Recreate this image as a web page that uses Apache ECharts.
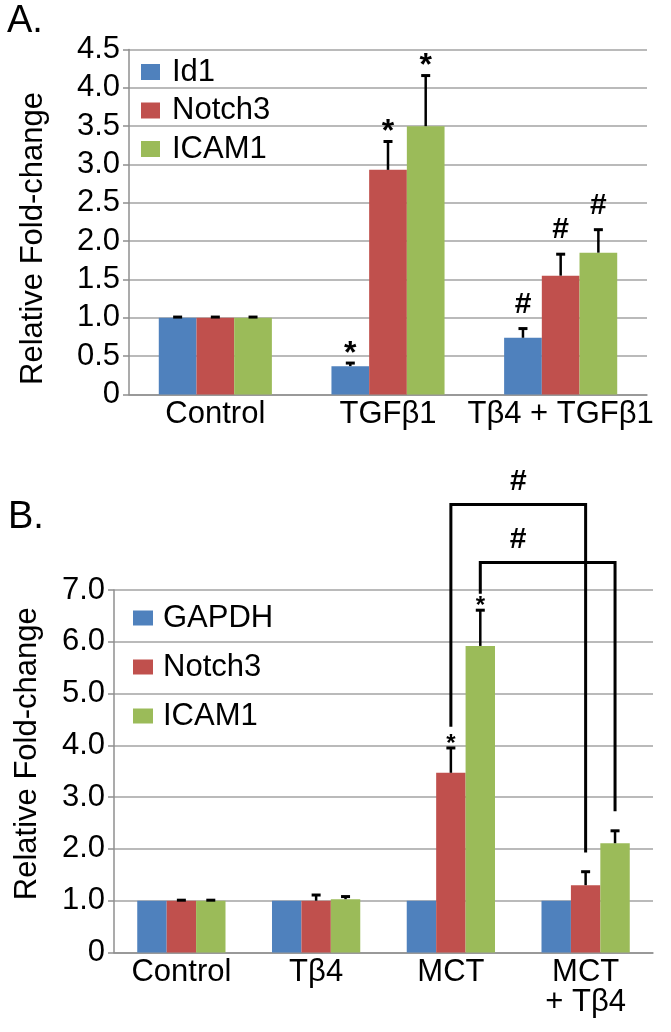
<!DOCTYPE html>
<html><head><meta charset="utf-8">
<script src="https://cdn.jsdelivr.net/npm/echarts@6/dist/echarts.min.js"></script>
<style>html,body{margin:0;padding:0;background:#fff}#c{width:671px;height:1032px}</style>
</head><body><div id="c"></div>
<script>
// ---------- Panel A data ----------
const categoriesA = ['Control', 'TGFβ1', 'Tβ4 + TGFβ1'];
const id1A = [1.00, 0.37, 0.74];
const id1ErrA = [1.01, 0.41, 0.86];
const notch3A = [1.00, 2.93, 1.55];
const notch3ErrA = [1.01, 3.30, 1.83];
const icam1A = [1.00, 3.50, 1.85];
const icam1ErrA = [1.01, 4.16, 2.15];
const id1SigA = ['', '*', '#'];
const notch3SigA = ['', '*', '#'];
const icam1SigA = ['', '*', '#'];
const yMinA = 0, yMaxA = 4.5, yStepA = 0.5;

// ---------- Panel B data ----------
const categoriesB = ['Control', 'Tβ4', 'MCT', 'MCT\n+ Tβ4'];
const gapdhB = [1.00, 1.00, 1.00, 1.00];
const gapdhErrB = [null, null, null, null];
const notch3B = [1.00, 1.00, 3.47, 1.30];
const notch3ErrB = [1.01, 1.11, 3.95, 1.56];
const icam1B = [1.00, 1.03, 5.92, 2.11];
const icam1ErrB = [1.01, 1.08, 6.61, 2.35];
const gapdhSigB = ['', '', '', ''];
const notch3SigB = ['', '', '*', ''];
const icam1SigB = ['', '', '*', ''];
const yMinB = 0, yMaxB = 7, yStepB = 1;
// significance brackets: [fromCategory, fromSeries, toCategory, toSeries, startValue, topValue, endValue, mark]
const bracketsB = [
  [2, 1, 3, 1, 4.36, 8.65, 1.93, '#'],
  [2, 2, 3, 2, 6.93, 7.53, 2.73, '#']
];

// ---------- styles ----------
const F = '"Liberation Sans", Arial, sans-serif';
const BLUE = '#4f81bd', RED = '#c0504d', GREEN = '#9bbb59';
const GRIDC = '#a3a3a3';
const GAP = 0.345;
const bracketLabelFrac = [0.5, 0.28];

function barX(api, cat, k) {
  const c = api.coord([cat, 0]);
  const band = api.size([1, 0])[0];
  const w = band * (1 - GAP) / 3;
  return c[0] + (k - 1) * w;
}

function errSeries(xi, k, base, err, sig, cfg) {
  return {
    type: 'custom', xAxisIndex: xi, yAxisIndex: xi, z: 5, clip: false, silent: true,
    data: base.map((b, i) => [i, b, err[i] == null ? b : err[i]]),
    encode: { x: 0, y: [1, 2] },
    renderItem: (params, api) => {
      const i = params.dataIndex;
      const children = [];
      const x = barX(api, api.value(0), k);
      const yb = api.coord([api.value(0), api.value(1)])[1];
      const ye = api.coord([api.value(0), api.value(2)])[1];
      if (err[i] != null) {
        children.push({ type: 'line', shape: { x1: x, y1: yb, x2: x, y2: ye }, style: { stroke: '#000', lineWidth: 2.5 } });
        children.push({ type: 'line', shape: { x1: x - 4.5, y1: ye, x2: x + 4.5, y2: ye }, style: { stroke: '#000', lineWidth: 3 } });
      }
      const s = sig[i];
      if (s) {
        const star = s === '*';
        children.push({ type: 'text', style: {
          text: s, x: x, y: ye - (star ? cfg.starOff : cfg.hashOff),
          align: 'center', verticalAlign: 'middle',
          font: 'bold ' + (star ? cfg.starSize : cfg.hashSize) + 'px ' + F, fill: '#000' } });
      }
      return { type: 'group', children: children };
    }
  };
}

const bracketSeries = {
  type: 'custom', xAxisIndex: 1, yAxisIndex: 1, z: 6, clip: false, silent: true,
  data: bracketsB.map(b => [b[0], b[4], b[5], b[6], b[2]]),
  encode: { x: 0, y: [1, 2] },
  renderItem: (params, api) => {
    const b = bracketsB[params.dataIndex];
    const x1 = barX(api, b[0], b[1]);
    const x2 = barX(api, b[2], b[3]);
    const yS = api.coord([b[0], b[4]])[1];
    const yT = api.coord([b[0], b[5]])[1];
    const yE = api.coord([b[2], b[6]])[1];
    const lx = x1 + (x2 - x1) * bracketLabelFrac[params.dataIndex];
    return { type: 'group', children: [
      { type: 'polyline', shape: { points: [[x1, yS], [x1, yT], [x2, yT], [x2, yE]] },
        style: { stroke: '#000', lineWidth: 3, fill: null } },
      { type: 'text', style: { text: b[7], x: lx, y: yT - 23, align: 'center', verticalAlign: 'middle',
        font: 'bold 30px ' + F, fill: '#000' } }
    ] };
  }
};

const fmt = v => v === 0 ? '0' : v.toFixed(1);
function xAxisCfg(gi, data) {
  return {
    type: 'category', gridIndex: gi, data: data,
    axisLine: { lineStyle: { color: '#8f8f8f', width: 1.5 } },
    axisTick: { length: 6, lineStyle: { color: '#8f8f8f', width: 1.5 } },
    axisLabel: { interval: 0, fontSize: 31, fontFamily: F, color: '#000', margin: 5, lineHeight: 30 }
  };
}
function yAxisCfg(gi, min, max, step, gap, pad) {
  return {
    type: 'value', gridIndex: gi, min: min, max: max, interval: step,
    name: 'Relative Fold-change', nameLocation: 'middle', nameGap: gap,
    nameTextStyle: { fontSize: 31, fontFamily: F, color: '#000', padding: pad },
    axisLine: { show: true, lineStyle: { color: '#8f8f8f', width: 1.5 } },
    axisTick: { show: true, length: 6, lineStyle: { color: '#8f8f8f', width: 1.5 } },
    splitLine: { lineStyle: { color: GRIDC, width: 1.5 } },
    axisLabel: { fontSize: 31, fontFamily: F, color: '#000', margin: 9, formatter: fmt }
  };
}
function bar(name, xi, data, color) {
  return { type: 'bar', name: name, xAxisIndex: xi, yAxisIndex: xi, data: data,
    barGap: '0%', barCategoryGap: (GAP * 100) + '%', itemStyle: { color: color }, z: 2 };
}

const cfgA = { starOff: 9, hashOff: 24, starSize: 32, hashSize: 30 };
const cfgB = { starOff: 4, hashOff: 24, starSize: 24, hashSize: 30 };

const chart = echarts.init(document.getElementById('c'), null, { renderer: 'canvas' });
chart.setOption({
  animation: false,
  backgroundColor: '#fff',
  title: [
    { text: 'A.', left: 7, top: 3, padding: 0, textStyle: { fontSize: 38, fontWeight: 'normal', fontFamily: F, color: '#000' } },
    { text: 'B.', left: 8, top: 499, padding: 0, textStyle: { fontSize: 38, fontWeight: 'normal', fontFamily: F, color: '#000' } }
  ],
  grid: [
    { left: 129, top: 49.5, width: 518, height: 345 },
    { left: 114, top: 590, width: 539, height: 362.5 }
  ],
  legend: [
    { orient: 'vertical', left: 136, top: 51, itemWidth: 19, itemHeight: 16, itemGap: 6.5, icon: 'rect',
      selectedMode: false, data: ['Id1', 'Notch3', 'ICAM1'],
      textStyle: { fontSize: 31, fontFamily: F, color: '#000', lineHeight: 32, padding: [0, 0, 0, 7] } },
    { orient: 'vertical', left: 128, top: 597, itemWidth: 20, itemHeight: 15, itemGap: 17, icon: 'rect',
      selectedMode: false, data: ['GAPDH', 'Notch3', 'ICAM1'],
      textStyle: { fontSize: 31, fontFamily: F, color: '#000', lineHeight: 32, padding: [0, 0, 0, 5] } }
  ],
  xAxis: [xAxisCfg(0, categoriesA), xAxisCfg(1, categoriesB)],
  yAxis: [yAxisCfg(0, yMinA, yMaxA, yStepA, 80, [0, 33, 0, 0]), yAxisCfg(1, yMinB, yMaxB, yStepB, 71, [0, 0, 0, 35])],
  series: [
    bar('Id1', 0, id1A, BLUE), bar('Notch3', 0, notch3A, RED), bar('ICAM1', 0, icam1A, GREEN),
    errSeries(0, 0, id1A, id1ErrA, id1SigA, cfgA),
    errSeries(0, 1, notch3A, notch3ErrA, notch3SigA, cfgA),
    errSeries(0, 2, icam1A, icam1ErrA, icam1SigA, cfgA),
    bar('GAPDH', 1, gapdhB, BLUE), bar('Notch3', 1, notch3B, RED), bar('ICAM1', 1, icam1B, GREEN),
    errSeries(1, 0, gapdhB, gapdhErrB, gapdhSigB, cfgB),
    errSeries(1, 1, notch3B, notch3ErrB, notch3SigB, cfgB),
    errSeries(1, 2, icam1B, icam1ErrB, icam1SigB, cfgB),
    bracketSeries
  ]
});
</script></body></html>
